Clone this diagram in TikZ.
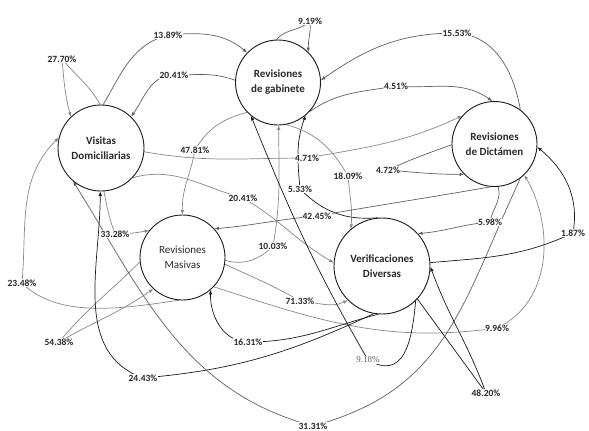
\documentclass[tikz,border=0pt]{standalone}
\usepackage{fontspec}
\setmainfont{Carlito}
\newfontfamily\serifl{Liberation Serif}
\usetikzlibrary{arrows.meta,backgrounds}
\definecolor{lc}{RGB}{135,135,135}
\definecolor{mc}{RGB}{95,95,95}
\definecolor{dc}{RGB}{25,25,25}
\definecolor{tc}{RGB}{40,40,40}
\tikzset{
  state/.style={circle,draw=dc,line width=0.9pt,minimum size=#1,inner sep=0pt,align=center,
    font=\fontsize{11}{15}\selectfont\bfseries,text=tc},
  pct/.style={fill=white,inner sep=0.5pt,font=\fontsize{9.5}{10}\selectfont\bfseries,text=tc},
  edge/.style={line width=0.7pt,-{Latex[length=4.5pt,width=3.6pt]}},
  lg/.style={edge,draw=lc},
  mg/.style={edge,draw=mc},
  dk/.style={edge,draw=dc}
}
\begin{document}
\begin{tikzpicture}[x=1pt,y=1pt]
\useasboundingbox (0,0) rectangle (589,-431);
% states
\node[state=86pt] (V) at (101,-148) {Visitas\\Domiciliarias};
\node[state=85pt] (G) at (278,-82.5) {Revisiones\\de gabinete};
\node[state=85pt] (D) at (494.5,-144) {Revisiones\\de Dictámen};
\node[state=85pt,font=\fontsize{11}{15}\selectfont] (M) at (182.5,-257.5) {Revisiones\\Masivas};
\node[state=96pt] (F) at (382,-266) {Verificaciones\\Diversas};
% labels
\node[pct] (l2770) at (62,-59) {27.70\%};
\node[pct] (l1389) at (168,-35) {13.89\%};
\node[pct] (l2041a) at (174,-75) {20.41\%};
\node[pct] (l919) at (310,-21) {9.19\%};
\node[pct] (l1553) at (457,-33) {15.53\%};
\node[pct] (l451) at (396,-86) {4.51\%};
\node[pct] (l4781) at (195,-150) {47.81\%};
\node[pct] (l471) at (307,-158) {4.71\%};
\node[pct] (l472) at (388,-170) {4.72\%};
\node[pct] (l533) at (300,-189) {5.33\%};
\node[pct] (l1809) at (348,-176) {18.09\%};
\node[pct] (l2041b) at (243,-198) {20.41\%};
\node[pct] (l4245) at (317,-216) {42.45\%};
\node[pct] (l3328) at (115,-234) {33.28\%};
\node[pct] (l2348) at (22,-283) {23.48\%};
\node[pct] (l1003) at (273,-246) {10.03\%};
\node[pct] (l5438) at (59,-342) {54.38\%};
\node[pct] (l7133) at (300,-301) {71.33\%};
\node[pct] (l996) at (497,-328) {9.96\%};
\node[pct] (l1631) at (248,-342) {16.31\%};
\node[pct] (l2443) at (143,-378) {24.43\%};
\node[pct] (l3131) at (313,-426) {31.31\%};
\node[pct,font=\serifl\fontsize{9}{10}\selectfont,text=mc] (l918) at (368,-360) {9.18\%};
\node[pct] (l4820) at (486,-393) {48.20\%};
\node[pct] (l187) at (573,-233) {1.87\%};
\node[pct] (l598) at (490,-222) {5.98\%};
% edges
\begin{scope}[on background layer]
\draw[lg] (V.91) to[out=120,in=-50] (l2770.center) to[out=-85,in=105] (V.134);
\draw[mg] (V.87) to[out=60,in=195] (l1389.center) to[out=5,in=140] (G.136);
\draw[mg] (G.177) to[out=160,in=0] (l2041a.center) to[out=180,in=55] (V.46);
\draw[mg] (G.92) to[out=50,in=-135] (l919.center) to[out=-85,in=92] (G.45);
\draw[mg] (D.53) to[out=100,in=-5] (l1553.center) to[out=180,in=35] (G.3);
\draw[mg] (G.-43) to[out=35,in=190] (l451.center) to[out=-5,in=145] (D.93);
\draw[lg] (G.224) to[out=195,in=60] (l4781.center) to[out=-100,in=92] (M.90);
\draw[lg] (V.-5) to[out=-10,in=180] (l471.center) to[out=10,in=205] (D.139);
\draw[mg] (D.181) to[out=200,in=25] (l472.center) to[out=-5,in=180] (D.225);
\draw[dk] (F.95) to[out=185,in=-45] (l533.center) to[out=95,in=-110] (G.-50);
\draw[lg] (G.-79) to[out=-15,in=120] (l1809.center) to[out=-85,in=85] (F.130);
\draw[lg] (V.-43) to[out=15,in=165] (l2041b.center) to[out=-30,in=150] (F.176);
\draw[mg] (D.-95) to[out=190,in=10] (l4245.center) to[out=185,in=5] (M.42);
\draw[lg] (V.-86) to[out=-80,in=110] (l3328.center) to[out=0,in=190] (M.141);
\draw[lg] (M.-95) to[out=188,in=-45,looseness=0.85] (l2348.center) to[out=85,in=225] (V.166);
\draw[lg] (M.-4) to[out=-15,in=225] (l1003.center) to[out=80,in=-90] (G.-89);
\draw[lg] (M.186) to[out=225,in=50] (l5438.center) to[out=30,in=215] (M.227);
\draw[lg] (M.-9) to[out=-25,in=150] (l7133.center) to[out=-5,in=205] (F.225);
\draw[lg] (M.-43) to[out=-18,in=188] (l996.center) to[out=25,in=-60] (D.-46);
\draw[dk] (F.-95) to[out=195,in=0] (l1631.center) to[out=180,in=-92] (M.-49);
\draw[dk] (F.-100) to[out=205,in=5] (l2443.center) to[out=160,in=-90] (V.-91);
\draw[mg] (D.-53) to[out=245,in=15,looseness=1.1] (l3131.center) to[out=165,in=-58] (V.230);
\draw[dk] (F.-46) to[out=-95,in=-30,looseness=1.4] (l918.center) to[out=120,in=-68] (G.231);
\draw[dk] (F.-43) -- (l4820.center) to[out=110,in=-70] (F.-1);
\draw[dk] (F.4) to[out=5,in=205] (l187.center) to[out=80,in=-40] (D.-4);
\draw[mg] (D.-85) to[out=-75,in=80] (l598.center) to[out=185,in=5] (F.42);
\end{scope}
\end{tikzpicture}
\end{document}
